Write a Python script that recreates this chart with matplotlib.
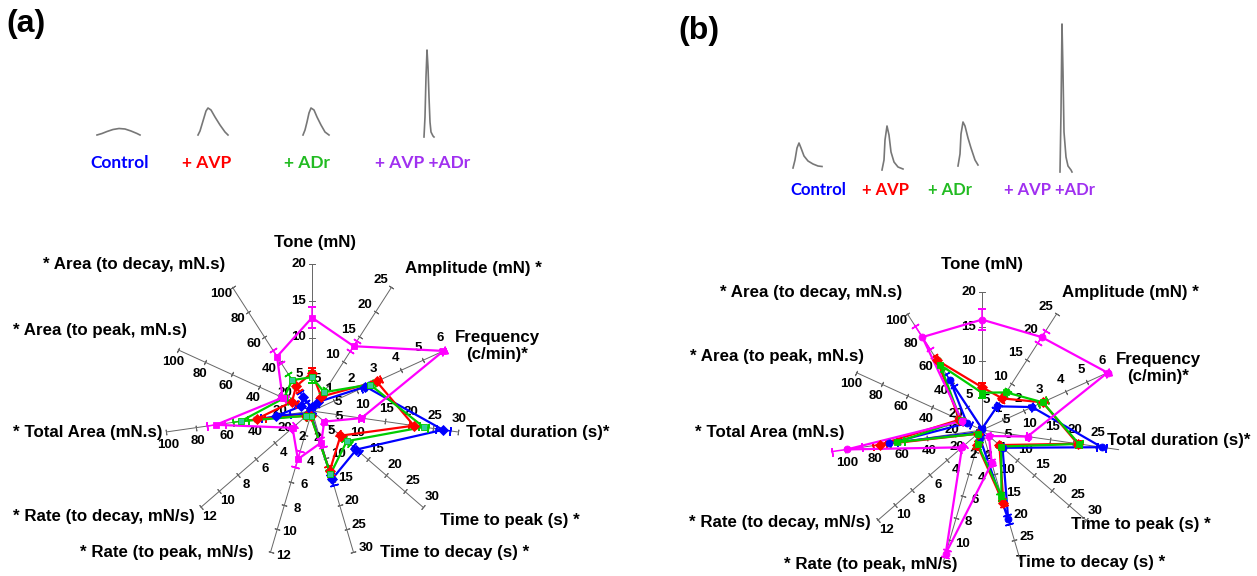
import numpy as np
import matplotlib.pyplot as plt

W, H = 1257, 576

# axes of the radar charts (clockwise from the top)
axis_names = ['Tone (mN)', 'Amplitude (mN) *', 'Frequency\n(c/min)*', 'Total duration (s)*',
              'Time to peak (s) *', 'Time to decay (s) *', '* Rate (to peak, mN/s)',
              '* Rate (to decay, mN/s)', '* Total Area (mN.s)', '* Area (to peak, mN.s)',
              '* Area (to decay, mN.s)']
axis_max = [20, 25, 6, 30, 30, 30, 12, 12, 100, 100, 100]

conditions = ['Control', '+ AVP', '+ ADr', '+ AVP +ADr']

# panel (a) means and errors, one value per axis
a_control = [0.5, 1.8, 2.4, 27, 12, 14.5, 0.3, 0.3, 25, 8, 11]
a_avp = [5.2, 2.9, 2.9, 21, 7.7, 12.8, 0.4, 0.6, 38, 15, 20]
a_adr = [4.6, 3.8, 2.6, 23, 9.4, 13.4, 0.4, 0.6, 49, 21, 25]
a_both = [12.7, 13.1, 5.9, 10.2, 3.3, 6.7, 4.1, 2.1, 66, 22, 44]
a_control_err = [0.3, 0.5, 0.2, 1.5, 1.0, 1.2, 0.2, 0.2, 10, 4, 4]
a_avp_err = [0.6, 0.6, 0.2, 1.0, 0.8, 1.0, 0.2, 0.3, 6, 4, 4]
a_adr_err = [0.8, 0.6, 0.2, 1.0, 0.8, 1.0, 0.2, 0.3, 5, 4, 5]
a_both_err = [1.4, 1.0, 0.1, 0.5, 0.3, 1.0, 0.7, 0.3, 6, 3, 5]

# panel (b)
b_control = [0.2, 5.1, 2.4, 26.3, 5.9, 20.2, 0.7, 0.3, 68, 12, 43]
b_avp = [6.2, 6.8, 2.9, 21, 5.0, 16.5, 1.4, 0.5, 75, 18, 60]
b_adr = [5.4, 8.1, 2.9, 21.3, 5.5, 15, 1.3, 0.5, 62, 17, 56]
b_both = [16, 20, 6.0, 10, 2, 7.5, 11.2, 2.3, 99, 16, 80]
b_control_err = [0.2, 0.6, 0.1, 1.0, 0.5, 1.0, 0.3, 0.2, 6, 3, 5]
b_avp_err = [0.6, 0.5, 0.2, 0.6, 0.5, 0.8, 0.3, 0.2, 5, 3, 4]
b_adr_err = [0.8, 0.6, 0.2, 0.6, 0.5, 0.8, 0.3, 0.2, 5, 3, 4]
b_both_err = [1.5, 1.3, 0.1, 0.3, 0.3, 0.6, 0.3, 0.3, 11, 2, 10]

# tick labels on each axis
a_ticks = [[5, 10, 15, 20], [5, 10, 15, 20, 25], [1, 2, 3, 4, 5, 6],
           [5, 10, 15, 20, 25, 30], [5, 10, 15, 20, 25, 30], [5, 10, 15, 20, 25, 30],
           [2, 4, 6, 8, 10, 12], [2, 4, 6, 8, 10, 12],
           [20, 40, 60, 80, 100], [20, 40, 60, 80, 100], [20, 40, 60, 80, 100]]
b_ticks = [[5, 10, 15, 20], [5, 10, 15, 20, 25], [1, 2, 3, 4, 5, 6],
           [5, 10, 15, 20, 25], [5, 10, 15, 20, 25, 30], [5, 10, 15, 20, 25],
           [2, 4, 6, 8, 10], [2, 4, 6, 8, 10, 12],
           [20, 40, 60, 80, 100], [20, 40, 60, 80, 100], [20, 40, 60, 80, 100]]

# example force traces (x, height in px)
a_trace_x = [[0, 5, 10, 16, 22, 28, 34, 40, 43],
             [0, 2, 5, 8, 10, 13, 17, 22, 27, 30],
             [0, 2, 4, 6, 8, 11, 14, 18, 22, 26],
             [0, 1, 2, 3, 4, 5, 6, 7, 9, 10]]
a_trace_y = [[0, 1.5, 3.5, 5.5, 6.5, 6, 4, 1.5, 0],
             [0, 4, 14, 24, 27, 25, 18, 10, 3, 0],
             [0, 5, 13, 22, 27, 25, 18, 10, 3, 0],
             [0, 20, 60, 87, 70, 40, 15, 5, 1, 0]]
b_trace_x = [[0, 2, 4, 6, 8, 11, 15, 20, 25, 29],
             [0, 2, 3, 5, 7, 9, 12, 16, 21],
             [0, 2, 3, 5, 7, 10, 13, 17, 20],
             [0, 1, 2, 3, 4, 6, 8, 11, 12]]
b_trace_y = [[0, 8, 20, 25, 20, 12, 7, 4, 2, 1.5],
             [0, 10, 30, 44, 35, 18, 8, 3, 1],
             [0, 12, 32, 44, 40, 28, 18, 6, 1],
             [0, 60, 148, 100, 40, 15, 6, 2, 0]]

line_cols = ['#0000FF', '#FF0000', '#00CC00', '#FF00FF']
label_cols = ['#0000FF', '#FF0000', '#22BB22', '#A030F0']
NAME_FONT = ['Liberation Sans Narrow', 'Liberation Sans', 'DejaVu Sans']
n = len(axis_names)
ang = np.arange(n) * 2 * np.pi / n

fig = plt.figure(figsize=(W / 100, H / 100), dpi=100)
ov = fig.add_axes([0, 0, 1, 1])
ov.set_xlim(0, W)
ov.set_ylim(H, 0)
ov.axis('off')


def radar(cx, cy, L, ticks, series, errs, mcols, markers, name_pos):
    ax = fig.add_axes([(cx - L) / W, (H - cy - L) / H, 2 * L / W, 2 * L / H], projection='polar')
    ax.set_theta_zero_location('N')
    ax.set_theta_direction(-1)
    ax.set_ylim(0, 1)
    ax.axis('off')
    for k in range(n):
        rot = 90 - np.degrees(ang[k])
        ax.plot([ang[k], ang[k]], [0, 1], color='#666666', lw=0.7, zorder=1, clip_on=False)
        r = np.array(ticks[k]) / axis_max[k]
        ax.plot(np.full(len(r), ang[k]), r, ls='none', marker=(2, 2, rot), ms=4, mew=0.7,
                color='#666666', clip_on=False, zorder=1)
        dx, dy = -np.cos(ang[k]) * 13, np.sin(ang[k]) * 13
        for v, rv in zip(ticks[k], r):
            ax.annotate(str(v), (ang[k], rv), xytext=(dx, dy), textcoords='offset pixels',
                        ha='center', va='center', fontsize=9.5, fontweight='bold',
                        family='Liberation Sans', zorder=2)
    for vals, err, col, mcol, mk in zip(series, errs, line_cols, mcols, markers):
        r = np.array(vals) / np.array(axis_max)
        e = np.array(err) / np.array(axis_max)
        ax.plot(np.append(ang, ang[0]), np.append(r, r[0]), color=col, lw=1.6,
                clip_on=False, zorder=4)
        for k in range(n):
            rot = 90 - np.degrees(ang[k])
            lo, hi = max(r[k] - e[k], 0), r[k] + e[k]
            ax.plot([ang[k], ang[k]], [lo, hi], color=col, lw=1.1, clip_on=False, zorder=4)
            ax.plot([ang[k], ang[k]], [lo, hi], ls='none', marker=(2, 2, rot), ms=6, mew=1.1,
                    color=col, clip_on=False, zorder=4)
        ax.plot(ang, r, ls='none', marker=mk, ms=5, color=mcol, mec=col, mew=0.6,
                clip_on=False, zorder=5)
    for name, (x, y, ha) in zip(axis_names, name_pos):
        ov.text(x, y, name, ha=ha, va='center', fontsize=12.2, fontweight='bold',
                family=NAME_FONT, multialignment='center', linespacing=1.1)


def traces(xs, ys, x0s, bases, lab_x, lab_y, size):
    for tx, ty, x0, b in zip(xs, ys, x0s, bases):
        ov.plot(np.array(tx) + x0, b - np.array(ty), color='#777777', lw=1.2)
    for c, col, x in zip(conditions, label_cols, lab_x):
        ov.text(x, lab_y, c, ha='center', va='center', color=col, fontsize=size,
                fontweight='bold', family=['Lato', 'DejaVu Sans'])


a_names = [(315, 242, 'center'), (473, 269, 'center'), (497, 346, 'center'),
           (466, 432, 'left'), (510, 520, 'center'), (455, 553, 'center'),
           (167, 553, 'center'), (104, 517, 'center'), (88, 432, 'center'),
           (100, 330, 'center'), (134, 265, 'center')]
b_names = [(982, 265, 'center'), (1130, 292, 'center'), (1158, 368, 'center'),
           (1107, 440, 'left'), (1141, 524, 'center'), (1091, 563, 'center'),
           (871, 565, 'center'), (780, 522, 'center'), (770, 432, 'center'),
           (777, 357, 'center'), (811, 293, 'center')]

radar(312, 411, 147, a_ticks, [a_control, a_avp, a_adr, a_both],
      [a_control_err, a_avp_err, a_adr_err, a_both_err],
      ['#0000FF', '#FF0000', '#33CC99', '#FF00FF'], ['D', 'D', 's', 's'], a_names)
radar(982, 430, 138, b_ticks, [b_control, b_avp, b_adr, b_both],
      [b_control_err, b_avp_err, b_adr_err, b_both_err],
      ['#0000FF', '#FF0000', '#00CC00', '#FF00FF'], ['o', 'D', 's', 'o'], b_names)

traces(a_trace_x, a_trace_y, [97, 198, 303, 424], [135, 135, 135, 137], [120, 207, 307, 423], 163, 12.5)
traces(b_trace_x, b_trace_y, [793, 882, 958, 1060], [168, 170, 166, 172], [818, 885, 950, 1050], 190, 12)

ov.text(6, 24, '(a)', fontsize=23, fontweight='bold', va='center', family='Liberation Sans')
ov.text(678, 31, '(b)', fontsize=23, fontweight='bold', va='center', family='Liberation Sans')

fig.savefig('out.png', dpi=100)
